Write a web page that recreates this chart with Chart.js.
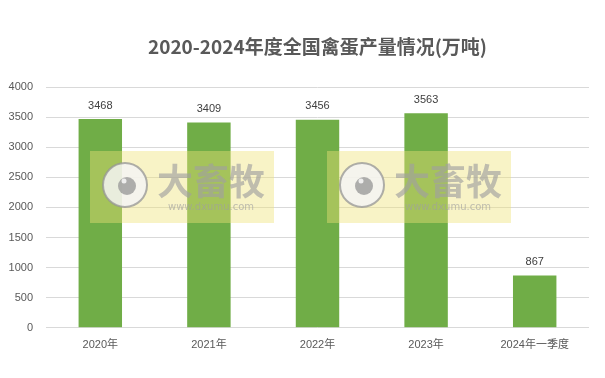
<!DOCTYPE html>
<html>
<head>
<meta charset="utf-8">
<script src="https://cdn.jsdelivr.net/npm/chart.js@4/dist/chart.umd.min.js"></script>
<style>
  html, body { margin: 0; padding: 0; background: #fff; }
  #wrap { width: 605px; height: 378px; }
</style>
</head>
<body>
<div id="wrap"><canvas id="mycanvas" width="605" height="378"></canvas></div>
<script>
// data
var years = ['2020年', '2021年', '2022年', '2023年', '2024年一季度'];
var output = [3468, 3409, 3456, 3563, 867];
var yTicks = [0, 500, 1000, 1500, 2000, 2500, 3000, 3500, 4000];
var titleText = '2020-2024年度全国禽蛋产量情况(万吨)';

var fontFam = "'Liberation Sans', 'Noto Sans CJK SC', sans-serif";

// title centred over the plot area, like the original
var plotTitle = {
    id: 'plotTitle',
    afterDraw: function(chart) {
        var ctx = chart.ctx;
        var a = chart.chartArea;
        ctx.save();
        ctx.font = 'bold 19px "Noto Sans CJK SC", sans-serif';
        ctx.fillStyle = '#595959';
        ctx.textAlign = 'center';
        ctx.textBaseline = 'middle';
        ctx.fillText(titleText, (a.left + a.right) / 2, 47);
        ctx.restore();
    }
};

// value labels above bars
var valueLabels = {
    id: 'valueLabels',
    afterDatasetsDraw: function(chart) {
        var ctx = chart.ctx;
        var meta = chart.getDatasetMeta(0);
        ctx.save();
        ctx.font = '11px ' + fontFam;
        ctx.fillStyle = '#404040';
        ctx.textAlign = 'center';
        ctx.textBaseline = 'bottom';
        meta.data.forEach(function(bar, i) {
            ctx.fillText(chart.data.datasets[0].data[i], bar.x, bar.y - 8);
        });
        ctx.restore();
    }
};

// the two "大畜牧" stamps sitting over the plot
var watermark = {
    id: 'watermark',
    afterDraw: function(chart) {
        var ctx = chart.ctx;
        var spots = [[90, 151], [327, 151]];
        ctx.save();
        spots.forEach(function(p) {
            var x = p[0], y = p[1], w = 184, h = 72;
            ctx.fillStyle = 'rgba(238,226,120,0.42)';
            ctx.fillRect(x, y, w, h);
            // logo
            var cx = x + 35, cy = y + 34;
            ctx.beginPath();
            ctx.arc(cx, cy, 22, 0, Math.PI * 2);
            ctx.fillStyle = 'rgba(245,245,245,0.85)';
            ctx.fill();
            ctx.lineWidth = 2;
            ctx.strokeStyle = 'rgba(150,150,150,0.75)';
            ctx.stroke();
            ctx.beginPath();
            ctx.arc(cx + 2, cy + 1, 9, 0, Math.PI * 2);
            ctx.fillStyle = 'rgba(150,150,150,0.75)';
            ctx.fill();
            ctx.beginPath();
            ctx.arc(cx - 1, cy - 4, 2.5, 0, Math.PI * 2);
            ctx.fillStyle = 'rgba(245,245,245,0.9)';
            ctx.fill();
            // text
            ctx.fillStyle = 'rgba(160,160,160,0.65)';
            ctx.textAlign = 'center';
            ctx.textBaseline = 'middle';
            ctx.font = 'bold 36px "Noto Sans CJK SC", sans-serif';
            ctx.fillText('大畜牧', x + 121, y + 30);
            ctx.font = '10px "DejaVu Sans", sans-serif';
            ctx.fillText('www.dxumu.com', x + 121, y + 56);
        });
        ctx.restore();
    }
};

var chartdata = {
    labels: years,
    datasets: [
        {
            label: '禽蛋产量',
            backgroundColor: '#70AD47',
            borderWidth: 0,
            data: output,
            categoryPercentage: 1,
            barPercentage: 0.4
        }
    ]
};

var config = {
    type: 'bar',
    data: chartdata,
    options: {
        responsive: false,
        animation: false,
        layout: { padding: { left: 0, right: 16, top: 87, bottom: 23 } },
        plugins: {
            legend: { display: false },
            tooltip: { enabled: false },
            title: { display: false }
        },
        scales: {
            x: {
                grid: { display: false },
                border: { display: false },
                ticks: { color: '#595959', font: { family: fontFam, size: 11 }, padding: 3 }
            },
            y: {
                min: 0,
                max: 4000,
                afterBuildTicks: function(axis) {
                    axis.ticks = yTicks.map(function(v) { return { value: v }; });
                },
                afterFit: function(axis) { axis.width = 46; },
                grid: { color: '#D9D9D9', drawTicks: false },
                border: { display: false },
                ticks: {
                    color: '#595959',
                    font: { family: fontFam, size: 11 },
                    padding: 13,
                    callback: function(v) { return String(v); }
                }
            }
        }
    },
    plugins: [valueLabels, watermark, plotTitle]
};

var ctx = document.getElementById('mycanvas').getContext('2d');
var barGraph = new Chart(ctx, config);
</script>
</body>
</html>
